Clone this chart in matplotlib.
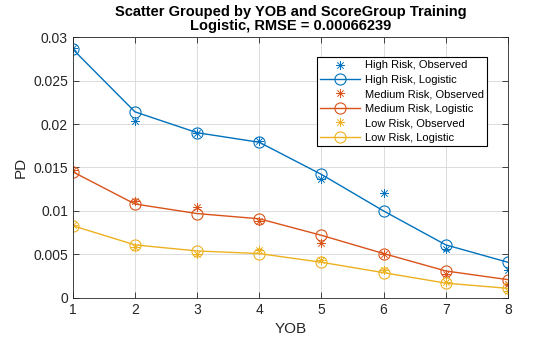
import matplotlib.pyplot as plt
from matplotlib.path import Path
import numpy as np

plt.rcParams['font.family'] = ['Liberation Sans', 'DejaVu Sans']

yob = [1, 2, 3, 4, 5, 6, 7, 8]

high_obs = [0.0288, 0.0203, 0.0190, 0.0180, 0.0137, 0.0121, 0.0056, 0.0032]
high_fit = [0.0286, 0.0214, 0.0190, 0.0179, 0.0142, 0.0100, 0.0061, 0.0041]
med_obs = [0.0147, 0.0111, 0.0104, 0.0089, 0.0063, 0.0051, 0.0028, 0.0016]
med_fit = [0.0145, 0.0108, 0.0097, 0.0091, 0.0072, 0.0051, 0.0031, 0.0021]
low_obs = [0.0084, 0.0058, 0.0050, 0.0055, 0.0044, 0.0032, 0.0018, 0.0008]
low_fit = [0.0083, 0.0061, 0.0054, 0.0051, 0.0041, 0.0029, 0.0017, 0.0011]

groups = ['High Risk', 'Medium Risk', 'Low Risk']
colors = ['#0072BD', '#D95319', '#EDB120']

# matlab style asterisk: plus and cross strokes
d = 0.7071
asterisk = Path([(-1, 0), (1, 0), (0, -1), (0, 1), (-d, -d), (d, d), (-d, d), (d, -d)],
                [Path.MOVETO, Path.LINETO] * 4)

fig = plt.figure(figsize=(5.6, 3.37), dpi=100)
ax = fig.add_axes([0.130, 0.116, 0.777, 0.774])

for name, obs, fit, c in zip(groups, [high_obs, med_obs, low_obs],
                             [high_fit, med_fit, low_fit], colors):
    ax.plot(yob, obs, linestyle='none', marker=asterisk, color=c, markersize=6.5,
            markeredgewidth=0.7, markerfacecolor='none', label=f'{name}, Observed')
    ax.plot(yob, fit, '-', color=c, linewidth=1, marker='o', markersize=8,
            markerfacecolor='none', markeredgewidth=0.8, label=f'{name}, Logistic')

ax.set_xlim(1, 8)
ax.set_ylim(0, 0.03)
ax.set_xticks(yob)
ax.set_yticks([0, 0.005, 0.01, 0.015, 0.02, 0.025, 0.03])
ax.set_yticklabels(['0', '0.005', '0.01', '0.015', '0.02', '0.025', '0.03'])
ax.grid(True, color='#dcdcdc', linewidth=0.7)
ax.set_axisbelow(True)
ax.tick_params(direction='in', top=True, right=True, labelsize=10, length=4,
               width=0.6, colors='#262626')
for s in ax.spines.values():
    s.set_linewidth(0.6)
    s.set_color('#262626')

ax.set_xlabel('YOB', fontsize=11, color='#262626')
ax.set_ylabel('PD', fontsize=11, color='#262626')
ax.set_title('Scatter Grouped by YOB and ScoreGroup Training\nLogistic, RMSE = 0.00066239',
             fontsize=10.5, fontweight='bold', linespacing=1.0, pad=5)

leg = ax.legend(loc='upper right', bbox_to_anchor=(0.952, 0.923), fontsize=8,
                fancybox=False, framealpha=1, edgecolor='black',
                borderpad=0.3, labelspacing=0.4, handlelength=3.6,
                handletextpad=0.4, borderaxespad=0)
leg.get_frame().set_linewidth(0.8)

fig.savefig('out.png', dpi=100)
